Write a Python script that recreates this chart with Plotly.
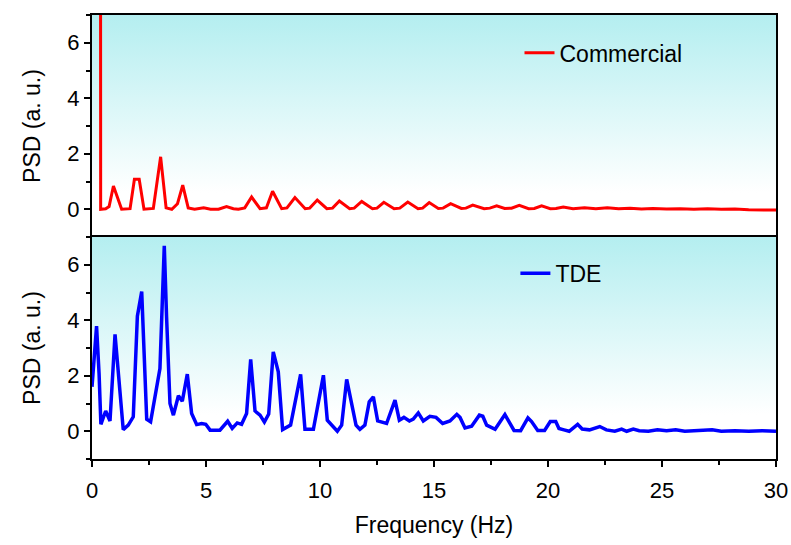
import plotly.graph_objects as go
from plotly.subplots import make_subplots

# ---------------- data ----------------
comm_freq = [0.36, 0.38, 0.6, 0.75, 0.94, 1.3, 1.67, 1.86, 2.07, 2.28, 2.69, 3.01, 3.25, 3.5, 3.75,
             3.98, 4.22, 4.5, 4.9, 5.2, 5.55, 5.9, 6.2, 6.42, 6.7, 7.0, 7.37, 7.65, 7.92, 8.32,
             8.55, 8.9, 9.35, 9.55, 9.88, 10.3, 10.55, 10.85, 11.3, 11.5, 11.83, 12.3, 12.5, 12.8,
             13.25, 13.5, 13.85, 14.3, 14.5, 14.79, 15.19, 15.4, 15.73, 16.2, 16.4, 16.7, 17.2,
             17.45, 17.75, 18.1, 18.4, 18.74, 19.15, 19.4, 19.72, 20.1, 20.35, 20.67, 21.1, 21.6,
             22.1, 22.6, 23.1, 23.6, 24.1, 24.6, 25.2, 25.8, 26.4, 27.0, 27.6, 28.2, 28.8, 29.4, 30.0]
comm_psd = [40, 0.0, 0.02, 0.1, 0.84, 0.0, 0.02, 1.08, 1.08, 0.0, 0.03, 1.89, 0.05, 0.0, 0.2,
            0.87, 0.05, 0.0, 0.05, 0.0, 0.0, 0.1, 0.02, 0.0, 0.05, 0.44, 0.02, 0.05, 0.65, 0.02,
            0.05, 0.42, 0.02, 0.04, 0.33, 0.02, 0.04, 0.3, 0.02, 0.04, 0.28, 0.02, 0.04, 0.25,
            0.02, 0.04, 0.26, 0.02, 0.04, 0.24, 0.03, 0.04, 0.2, 0.03, 0.04, 0.15, 0.02,
            0.04, 0.12, 0.03, 0.04, 0.14, 0.02, 0.03, 0.12, 0.02, 0.03, 0.08, 0.02, 0.05,
            0.02, 0.05, 0.02, 0.04, 0.01, 0.03, 0.01, 0.02, 0.0, 0.02, 0.0, 0.01, -0.02, -0.02, -0.03]

tde_freq = [0.0, 0.2, 0.31, 0.39, 0.6, 0.79, 1.01, 1.11, 1.37, 1.59, 1.81, 1.99, 2.18, 2.4, 2.57,
            2.98, 3.17, 3.27, 3.42, 3.57, 3.79, 3.96, 4.18, 4.37, 4.59, 4.81, 4.99, 5.18, 5.61,
            5.95, 6.15, 6.37, 6.56, 6.78, 6.96, 7.15, 7.37, 7.56, 7.75, 7.95, 8.17, 8.36, 8.71,
            9.15, 9.34, 9.71, 10.15, 10.32, 10.76, 10.95, 11.17, 11.58, 11.75, 11.97, 12.16,
            12.34, 12.53, 12.92, 13.29, 13.48, 13.68, 13.92, 14.09, 14.31, 14.53, 14.82, 15.09,
            15.38, 15.7, 16.0, 16.14, 16.36, 16.65, 16.99, 17.14, 17.31, 17.68, 18.11, 18.51,
            18.8, 19.12, 19.28, 19.55, 19.85, 20.1, 20.34, 20.48, 20.7, 20.93, 21.3, 21.5, 21.82,
            22.27, 22.56, 22.93, 23.23, 23.45, 23.74, 24.0, 24.4, 24.8, 25.2, 25.6, 26.0, 26.5,
            27.2, 27.6, 28.2, 28.8, 29.4, 30.0]
tde_psd = [1.6, 3.79, 2.08, 0.25, 0.73, 0.37, 3.49, 2.5, 0.06, 0.22, 0.52, 4.15, 5.03, 0.43, 0.34,
           2.26, 6.68, 4.13, 1.0, 0.58, 1.28, 1.08, 2.06, 0.64, 0.24, 0.28, 0.25, 0.04, 0.04,
           0.36, 0.1, 0.3, 0.25, 0.64, 2.59, 0.73, 0.58, 0.33, 0.62, 2.86, 2.14, 0.06, 0.22,
           2.05, 0.07, 0.07, 2.02, 0.4, 0.0, 0.22, 1.87, 0.22, 0.07, 0.22, 1.06,
           1.24, 0.37, 0.28, 1.12, 0.4, 0.5, 0.37, 0.44, 0.66, 0.37, 0.54, 0.5,
           0.28, 0.37, 0.61, 0.5, 0.12, 0.18, 0.58, 0.54, 0.22, 0.07, 0.6, 0.03,
           0.02, 0.48, 0.35, 0.03, 0.03, 0.35, 0.35, 0.1, 0.05, 0.0, 0.25, 0.08, 0.05,
           0.17, 0.05, 0.0, 0.08, 0.0, 0.08, 0.02, 0.0, 0.05, 0.02, 0.05, 0.0, 0.03,
           0.05, 0.0, 0.02, 0.0, 0.02, 0.0]

assert len(comm_freq) == len(comm_psd), (len(comm_freq), len(comm_psd))
assert len(tde_freq) == len(tde_psd), (len(tde_freq), len(tde_psd))

x_range = [0, 30]
y_range = [-1, 7]
y_ticks = [0, 2, 4, 6]
y_minor = [-1, 1, 3, 5, 7]
x_ticks = [0, 5, 10, 15, 20, 25, 30]

FONT = "Arial, 'Liberation Sans', sans-serif"
TICK_SIZE = 22
TITLE_SIZE = 23

fig = make_subplots(rows=2, cols=1, shared_xaxes=True, vertical_spacing=0)

# gradient backgrounds
for r in (1, 2):
    fig.add_trace(go.Scatter(
        x=[x_range[0], x_range[1], x_range[1], x_range[0], x_range[0]],
        y=[y_range[0], y_range[0], y_range[1], y_range[1], y_range[0]],
        mode="lines", line=dict(width=0), fill="toself",
        fillgradient=dict(type="vertical", start=y_range[0], stop=y_range[1],
                          colorscale=[[0, "#ffffff"], [0.2, "#ffffff"], [1, "#b4eef0"]]),
        hoverinfo="skip", showlegend=False), row=r, col=1)

fig.add_trace(go.Scatter(x=comm_freq, y=comm_psd, mode="lines", name="Commercial",
                         line=dict(color="#ff0000", width=3), legend="legend"), row=1, col=1)
fig.add_trace(go.Scatter(x=tde_freq, y=tde_psd, mode="lines", name="TDE",
                         line=dict(color="#0000ff", width=3.5), legend="legend2"), row=2, col=1)

axis_common = dict(showline=True, linecolor="black", linewidth=2, mirror=True,
                   showgrid=False, zeroline=False, automargin=False)

fig.update_xaxes(range=x_range, **axis_common)
fig.update_xaxes(row=1, col=1, ticks="", showticklabels=False)
fig.update_xaxes(row=2, col=1, ticks="outside", ticklen=6, tickwidth=2, tickcolor="black",
                 tickvals=x_ticks, ticktext=[str(v) for v in x_ticks], ticklabelstandoff=5,
                 minor=dict(ticks="outside", ticklen=4, tickwidth=2, tickcolor="black", dtick=2.5),
                 tickfont=dict(family=FONT, size=TICK_SIZE, color="black"),
                 title=dict(text="Frequency (Hz)",
                            font=dict(family=FONT, size=TITLE_SIZE, color="black"),
                            standoff=14))
fig.update_yaxes(range=y_range, **axis_common, ticks="outside", ticklen=6, tickwidth=2,
                 tickcolor="black", tickvals=y_ticks, ticktext=[str(v) for v in y_ticks],
                 minor=dict(ticks="outside", ticklen=4, tickwidth=2, tickcolor="black",
                            tickvals=y_minor),
                 tickfont=dict(family=FONT, size=TICK_SIZE, color="black"),
                 title=dict(text="PSD (a. u.)",
                            font=dict(family=FONT, size=TITLE_SIZE, color="black"),
                            standoff=20))

fig.update_layout(
    width=791, height=545,
    margin=dict(l=92, r=15, t=15, b=86),
    paper_bgcolor="white", plot_bgcolor="white",
    font=dict(family=FONT, size=TICK_SIZE, color="black"),
    legend=dict(x=0.625, y=0.915, xanchor="left", yanchor="middle", bgcolor="rgba(0,0,0,0)",
                font=dict(family=FONT, size=TITLE_SIZE, color="black")),
    legend2=dict(x=0.619, y=0.418, xanchor="left", yanchor="middle", bgcolor="rgba(0,0,0,0)",
                 font=dict(family=FONT, size=TITLE_SIZE, color="black")),
)

fig.write_html("out.html", config={"displayModeBar": False},
               post_script="document.body.style.margin='0';")
